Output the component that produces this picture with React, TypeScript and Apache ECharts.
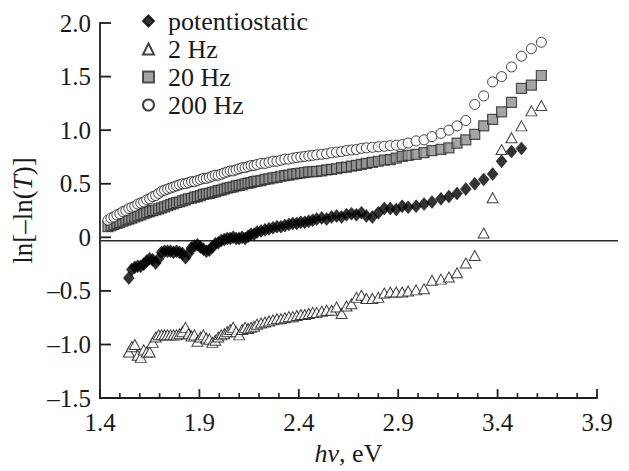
import React, { useEffect, useRef } from 'react';
import * as echarts from 'echarts';

// Photon energy grid (eV)
const energy = [
  1.44, 1.455, 1.47, 1.485, 1.5, 1.515, 1.53, 1.545, 1.56, 1.575,
  1.59, 1.605, 1.62, 1.635, 1.65, 1.665, 1.68, 1.695, 1.71, 1.725,
  1.74, 1.755, 1.77, 1.785, 1.8, 1.815, 1.83, 1.845, 1.86, 1.875,
  1.89, 1.905, 1.92, 1.935, 1.95, 1.965, 1.98, 1.995, 2.01, 2.025,
  2.04, 2.055, 2.07, 2.085, 2.1, 2.115, 2.13, 2.145, 2.16, 2.175,
  2.19,
  2.21, 2.23, 2.25, 2.27, 2.29, 2.31, 2.33, 2.35, 2.37, 2.39,
  2.41, 2.43, 2.45, 2.47, 2.49, 2.515, 2.54, 2.565, 2.59, 2.615,
  2.64, 2.665, 2.69, 2.715, 2.74, 2.77, 2.8, 2.83, 2.86, 2.89,
  2.92,
  2.95, 2.99, 3.03, 3.07, 3.115, 3.155, 3.196, 3.24, 3.285, 3.33,
  3.375, 3.42, 3.47, 3.52, 3.57, 3.62,
];

const potentiostatic = [
  null, null, null, null, null, null, null, -0.38, -0.3, -0.28,
  -0.27, -0.27, -0.25, -0.22, -0.2, -0.21, -0.24, -0.2, -0.14, -0.13,
  -0.13, -0.13, -0.14, -0.13, -0.14, -0.15, -0.19, -0.15, -0.1, -0.08,
  -0.07, -0.09, -0.11, -0.13, -0.12, -0.09, -0.06, -0.05, -0.03, -0.02,
  -0.01, -0.01, 0.0, -0.01, -0.01, 0.0, -0.01, 0.01, 0.03, 0.03,
  0.05,
  0.06, 0.07, 0.08, 0.09, 0.1, 0.1, 0.11, 0.12, 0.13, 0.13,
  0.14, 0.14, 0.15, 0.16, 0.17, 0.18, 0.17, 0.19, 0.2, 0.19,
  0.21, 0.22, 0.21, 0.23, 0.2, 0.19, 0.23, 0.27, 0.27, 0.26,
  0.29,
  0.28, 0.29, 0.31, 0.33, 0.36, 0.38, 0.41, 0.45, 0.5, 0.54,
  0.59, 0.71, 0.8, 0.83, null, null,
];

const hz2 = [
  null, null, null, null, null, null, null, -1.07, -1.02, -1.0,
  -1.1, -1.12, -1.05, -1.07, -1.07, -0.98, -0.93, -0.91, -0.91, -0.91,
  -0.91, -0.91, -0.91, -0.91, -0.9, -0.88, -0.84, -0.9, -0.92, -0.91,
  -0.97, -0.93, -0.91, -0.94, -0.95, -0.98, -0.96, -0.93, -0.91, -0.9,
  -0.88, -0.86, -0.84, -0.88, -0.91, -0.86, -0.84, -0.85, -0.84, -0.83,
  -0.81,
  -0.8, -0.79, -0.78, -0.77, -0.76, -0.76, -0.75, -0.74, -0.74, -0.73,
  -0.72, -0.72, -0.71, -0.7, -0.7, -0.69, -0.68, -0.68, -0.65, -0.71,
  -0.64, -0.62, -0.56, -0.54, -0.57, -0.57, -0.56, -0.52, -0.51, -0.51,
  -0.51,
  -0.5, -0.49, -0.48, -0.4, -0.39, -0.37, -0.33, -0.24, -0.17, 0.04,
  0.37, 0.82, 0.93, 1.04, 1.18, 1.23,
];

const hz20 = [
  0.1, 0.11, 0.12, 0.13, 0.14, 0.15, 0.16, 0.17, 0.18, 0.19,
  0.2, 0.21, 0.22, 0.23, 0.24, 0.25, 0.255, 0.265, 0.275, 0.285,
  0.295, 0.305, 0.315, 0.325, 0.33, 0.34, 0.35, 0.36, 0.365, 0.375,
  0.38, 0.39, 0.4, 0.405, 0.41, 0.42, 0.425, 0.435, 0.44, 0.45,
  0.46, 0.465, 0.47, 0.48, 0.485, 0.49, 0.5, 0.505, 0.51, 0.52,
  0.525,
  0.53, 0.54, 0.545, 0.555, 0.56, 0.57, 0.575, 0.58, 0.59, 0.595,
  0.6, 0.605, 0.61, 0.612, 0.615, 0.62, 0.63, 0.635, 0.64, 0.65,
  0.655, 0.665, 0.672, 0.68, 0.69, 0.7, 0.71, 0.72, 0.725, 0.74,
  0.755,
  0.765, 0.775, 0.79, 0.81, 0.82, 0.835, 0.88, 0.91, 0.96, 1.04,
  1.1, 1.17, 1.26, 1.39, 1.42, 1.51,
];

const hz200 = [
  0.16, 0.18, 0.19, 0.21, 0.22, 0.24, 0.25, 0.27, 0.28, 0.29,
  0.31, 0.32, 0.33, 0.35, 0.36, 0.38, 0.39, 0.41, 0.43, 0.44,
  0.45, 0.46, 0.47, 0.48, 0.49, 0.5, 0.5, 0.51, 0.52, 0.52,
  0.53, 0.54, 0.55, 0.55, 0.56, 0.57, 0.58, 0.58, 0.59, 0.6,
  0.61, 0.62, 0.62, 0.63, 0.64, 0.65, 0.65, 0.66, 0.67, 0.67,
  0.68,
  0.69, 0.69, 0.7, 0.71, 0.71, 0.72, 0.73, 0.73, 0.74, 0.745,
  0.75, 0.755, 0.76, 0.765, 0.77, 0.775, 0.78, 0.79, 0.795, 0.8,
  0.81, 0.815, 0.82, 0.83, 0.835, 0.84, 0.845, 0.85, 0.855, 0.86,
  0.865,
  0.88, 0.9, 0.91, 0.94, 0.97, 1.0, 1.04, 1.09, 1.24, 1.32,
  1.45, 1.5, 1.59, 1.69, 1.76, 1.82,
];

const xTickLabels = [1.4, 1.9, 2.4, 2.9, 3.4, 3.9];
const xMinorTicks = [
  1.5, 1.6, 1.7, 1.8, 2.0, 2.1, 2.2, 2.3, 2.5, 2.6, 2.7, 2.8,
  3.0, 3.1, 3.2, 3.3, 3.5, 3.6, 3.7, 3.8,
];
const yTickValues = [-1.5, -1.0, -0.5, 0, 0.5, 1.0, 1.5, 2.0];
const zeroLevel = [0, 0];
const seriesNames = ['potentiostatic', '2 Hz', '20 Hz', '200 Hz'];

const X_MIN = 1.4;
const X_MAX = 3.9;
const Y_MIN = -1.5;
const Y_MAX = 2.0;

const FONT = '"Liberation Serif", "Times New Roman", serif';
const INK = '#1a1a1a';
const AXIS = '#1e1e1e';
const TICK = '#1e1e1e';

function pairs(ys: (number | null)[]) {
  return energy
    .map((x, i) => [x, ys[i]])
    .filter((p) => p[1] !== null && p[1] !== undefined);
}

function fmtY(v: number) {
  if (Math.abs(v) < 1e-9) return '0';
  return (v < 0 ? '\u2013' : '') + Math.abs(v).toFixed(1);
}

function xTickSeries(name: string, values: number[], len: number, width: number) {
  return {
    name,
    type: 'custom',
    xAxisIndex: 0,
    yAxisIndex: 0,
    silent: true,
    clip: false,
    z: 5,
    data: values.map((v) => [v, Y_MIN]),
    renderItem: (_p: any, api: any) => {
      const pt = api.coord([api.value(0), api.value(1)]);
      return {
        type: 'line',
        shape: { x1: pt[0], y1: pt[1], x2: pt[0], y2: pt[1] - len },
        style: { stroke: TICK, lineWidth: width },
      };
    },
  };
}

function yTickSeries(name: string, values: number[], len: number, width: number) {
  return {
    name,
    type: 'custom',
    xAxisIndex: 0,
    yAxisIndex: 0,
    silent: true,
    clip: false,
    z: 5,
    data: values.map((v) => [X_MIN, v]),
    renderItem: (_p: any, api: any) => {
      const pt = api.coord([api.value(0), api.value(1)]);
      return {
        type: 'line',
        shape: { x1: pt[0], y1: pt[1], x2: pt[0] + len, y2: pt[1] },
        style: { stroke: TICK, lineWidth: width },
      };
    },
  };
}

export default function App() {
  const ref = useRef<HTMLDivElement>(null);

  useEffect(() => {
    if (!ref.current) return;
    const chart = echarts.init(ref.current, undefined, { renderer: 'svg' });

    const option: any = {
      animation: false,
      backgroundColor: '#ffffff',
      textStyle: { fontFamily: FONT, color: INK },
      grid: [
        { left: 100, right: 32, top: 23, bottom: 67, containLabel: false },
        { left: 100, right: 11, top: 23, bottom: 67, containLabel: false },
      ],
      legend: {
        data: seriesNames,
        orient: 'vertical',
        left: 142,
        top: 8,
        itemWidth: 11,
        itemHeight: 11,
        itemGap: 2,
        padding: 0,
        formatter: (name: string) => '{t|' + name + '}',
        textStyle: {
          fontFamily: FONT,
          fontSize: 26,
          color: INK,
          lineHeight: 25,
          rich: {
            t: { fontFamily: FONT, fontSize: 26, color: INK, lineHeight: 25, padding: [0, 0, 0, 9] },
          },
        },
      },
      xAxis: [
        {
          type: 'value',
          gridIndex: 0,
          min: X_MIN,
          max: X_MAX,
          position: 'bottom',
          name: '{i|h\u03bd}, eV',
          nameLocation: 'middle',
          nameGap: 40,
          nameTextStyle: {
            fontFamily: FONT,
            fontSize: 26,
            color: INK,
            rich: { i: { fontFamily: FONT, fontSize: 26, fontStyle: 'italic', color: INK } },
          },
          axisLine: { show: true, onZero: false, lineStyle: { color: AXIS, width: 1.8 } },
          axisTick: { show: false },
          axisLabel: {
            customValues: xTickLabels,
            fontFamily: FONT,
            fontSize: 25,
            color: INK,
            margin: 12,
            formatter: (v: number) => v.toFixed(1),
          },
          splitLine: { show: false },
        },
        {
          type: 'value',
          gridIndex: 1,
          min: 0,
          max: 1,
          show: false,
          axisLine: { onZero: false },
        },
      ],
      yAxis: [
        {
          type: 'value',
          gridIndex: 0,
          min: Y_MIN,
          max: Y_MAX,
          interval: 0.5,
          name: 'ln[\u2013ln({i|T})]',
          nameLocation: 'middle',
          nameRotate: 90,
          nameGap: 64,
          nameTextStyle: {
            fontFamily: FONT,
            fontSize: 27,
            color: INK,
            rich: { i: { fontFamily: FONT, fontSize: 27, fontStyle: 'italic', color: INK } },
          },
          axisLine: { show: true, onZero: false, lineStyle: { color: AXIS, width: 1.8 } },
          axisTick: { show: false },
          axisLabel: {
            fontFamily: FONT,
            fontSize: 25,
            color: INK,
            margin: 9,
            formatter: fmtY,
          },
          splitLine: { show: false },
        },
        {
          type: 'value',
          gridIndex: 1,
          min: Y_MIN,
          max: Y_MAX,
          show: false,
          axisLine: { onZero: false },
        },
      ],
      series: [
        {
          name: 'zero',
          type: 'line',
          xAxisIndex: 1,
          yAxisIndex: 1,
          data: [[0, zeroLevel[0]], [1, zeroLevel[1]]],
          symbol: 'none',
          silent: true,
          z: 1,
          lineStyle: { color: '#2a2a2a', width: 1.4 },
        },
        xTickSeries('xMajorTicks', xTickLabels, 9, 1.8),
        xTickSeries('xMinorTicks', xMinorTicks, 5, 1.6),
        yTickSeries('yTicks', yTickValues, 11, 1.8),
        {
          name: seriesNames[0],
          type: 'scatter',
          xAxisIndex: 0,
          yAxisIndex: 0,
          data: pairs(potentiostatic),
          symbol: 'diamond',
          symbolSize: [11, 13],
          itemStyle: { color: '#000', borderColor: '#000', borderWidth: 0.5 },
          z: 3,
        },
        {
          name: seriesNames[1],
          type: 'scatter',
          xAxisIndex: 0,
          yAxisIndex: 0,
          data: pairs(hz2),
          symbol: 'triangle',
          symbolSize: [11, 10],
          itemStyle: { color: '#fff', borderColor: '#111', borderWidth: 1 },
          z: 3,
        },
        {
          name: seriesNames[2],
          type: 'scatter',
          xAxisIndex: 0,
          yAxisIndex: 0,
          data: pairs(hz20),
          symbol: 'rect',
          symbolSize: 10,
          itemStyle: { color: '#8e8e8e', borderColor: '#2a2a2a', borderWidth: 1.2 },
          z: 3,
        },
        {
          name: seriesNames[3],
          type: 'scatter',
          xAxisIndex: 0,
          yAxisIndex: 0,
          data: pairs(hz200),
          symbol: 'circle',
          symbolSize: 10,
          itemStyle: { color: '#fff', borderColor: '#111', borderWidth: 1 },
          z: 3,
        },
      ],
    };

    chart.setOption(option);
    return () => chart.dispose();
  }, []);

  return (
    <div
      ref={ref}
      style={{ position: 'fixed', left: 0, top: 0, width: 629, height: 471, background: '#fff' }}
    />
  );
}
